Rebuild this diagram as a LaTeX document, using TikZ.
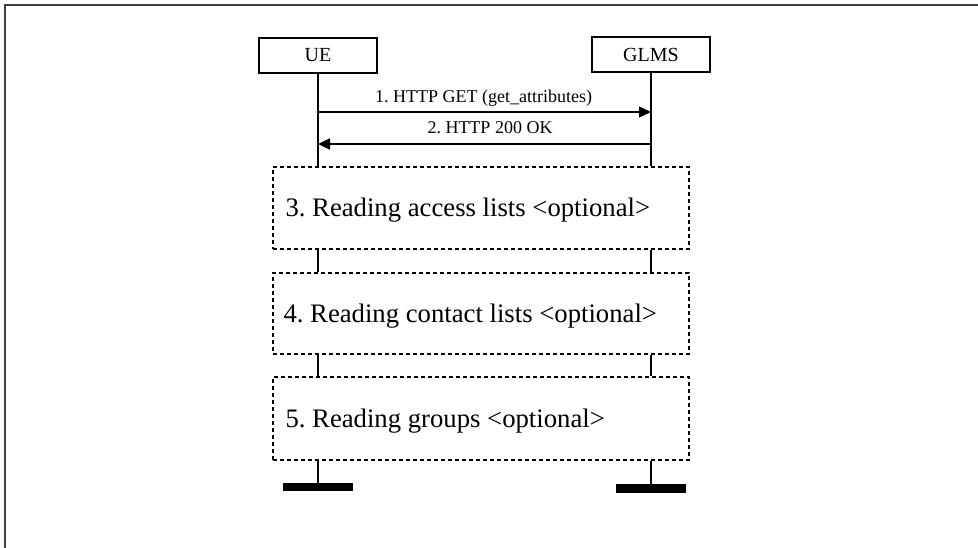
\documentclass[tikz,border=0pt]{standalone}
\usepackage{fontspec}
\setmainfont{Liberation Serif}
\usetikzlibrary{arrows.meta}
\frenchspacing

\begin{document}
\begin{tikzpicture}[x=1pt,y=-1pt,
  actor/.style={draw, line width=1.3pt, minimum width=118pt, minimum height=35pt,
    inner sep=0pt, font=\fontsize{20}{24}\selectfont},
  stepbox/.style={draw, line width=1.4pt, dash pattern=on 4pt off 3pt,
    minimum width=416pt, inner sep=0pt},
  steptext/.style={anchor=base west, inner sep=0pt, font=\fontsize{26.7}{30}\selectfont},
  msg/.style={line width=1.3pt, -{Triangle[length=12pt,width=11pt]}},
  msglabel/.style={anchor=base, inner sep=0pt, font=\fontsize{18}{21}\selectfont},
  lifeline/.style={line width=1.3pt},
  endbar/.style={fill=black, minimum width=70pt, minimum height=8.5pt, inner sep=0pt}]
\useasboundingbox (0,0) rectangle (978,548);

% outer frame (open to the right and bottom)
\draw[line width=1.5pt, black!75] (5,548) -- (5,5) -- (978,5);

% participants
\node[actor] (ue)   at (318,55.5) {UE};
\node[actor] (glms) at (651,54.5) {GLMS};

% optional procedure blocks
\node[stepbox, minimum height=82pt] (s3) at (481,208) {};
\node[stepbox, minimum height=81pt] (s4) at (481,313.5) {};
\node[stepbox, minimum height=83pt] (s5) at (481,418.5) {};
\node[steptext] (t3) at ([xshift=13pt,yshift=-9pt]s3.west) {3. Reading access lists <optional>};
\node[steptext] (t4) at ([xshift=11pt,yshift=-9pt]s4.west) {4. Reading contact lists <optional>};
\node[steptext] (t5) at ([xshift=13pt,yshift=-9pt]s5.west) {5. Reading groups <optional>};

% end-of-flow bars
\node[endbar] (ueend)   at (318,487) {};
\node[endbar] (glmsend) at (651,488.5) {};

% lifelines
\draw[lifeline] (ue.south) -- (ue.south |- s3.north);
\draw[lifeline] (glms.south) -- (glms.south |- s3.north);
\draw[lifeline] (s3.south -| ue.south) -- (s4.north -| ue.south);
\draw[lifeline] (s3.south -| glms.south) -- (s4.north -| glms.south);
\draw[lifeline] (s4.south -| ue.south) -- (s5.north -| ue.south);
\draw[lifeline] (s4.south -| glms.south) -- (s5.north -| glms.south);
\draw[lifeline] (s5.south -| ue.south) -- (ueend.north);
\draw[lifeline] (s5.south -| glms.south) -- (glmsend.north);

% messages
\coordinate (m1a) at (ue.south |- 0,112);
\coordinate (m1b) at (glms.south |- 0,112);
\coordinate (m2a) at (glms.south |- 0,144);
\coordinate (m2b) at (ue.south |- 0,144);
\draw[msg] (m1a) -- (m1b);
\draw[msg, line width=2.4pt] (m2a) -- (m2b);
\node[msglabel] (l1) at (483.5,103) {1. HTTP GET (get\_attributes)};
\node[msglabel] (l2) at (490,134) {2. HTTP 200 OK};
\end{tikzpicture}
\end{document}
